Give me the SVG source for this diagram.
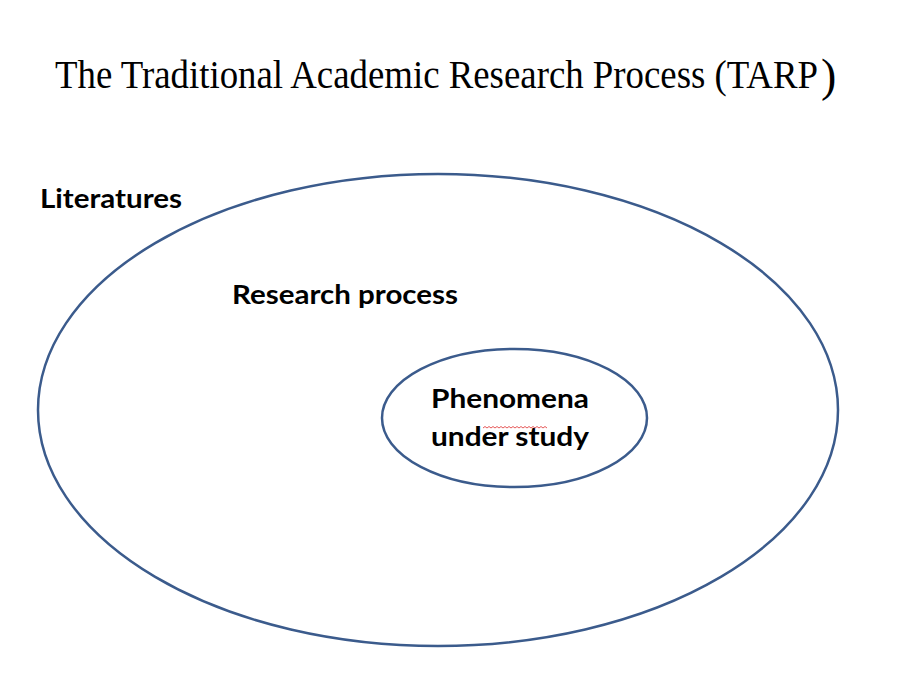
<svg xmlns="http://www.w3.org/2000/svg" width="901" height="682" viewBox="0 0 901 682">
<style>
.ring{fill:none;stroke:#3B5B8C;stroke-width:2.5}
.lbl{font-family:Lato,"Open Sans",sans-serif;font-weight:bold;fill:#000}
.title{font-family:"Liberation Serif","Times New Roman",serif;fill:#000}
</style>
<rect width="901" height="682" fill="#fff"/>
<text class="title" x="55" y="88" font-size="39"><tspan textLength="763" lengthAdjust="spacingAndGlyphs">The Traditional Academic Research Process (TARP</tspan><tspan x="821" dy="3" font-size="46">)</tspan></text>
<g id="literatures">
<ellipse class="ring" cx="438" cy="410" rx="400" ry="236"/>
<text class="lbl" x="40" y="208" font-size="26" textLength="142" lengthAdjust="spacingAndGlyphs">Literatures</text>
</g>
<g id="research-process">
<text class="lbl" x="232" y="304" font-size="26" textLength="226" lengthAdjust="spacingAndGlyphs">Research process</text>
</g>
<g id="phenomena">
<ellipse class="ring" cx="514.5" cy="418" rx="132.5" ry="69"/>
<text class="lbl" x="431" y="408" font-size="27" textLength="158" lengthAdjust="spacingAndGlyphs">Phenomena</text>
<text class="lbl" x="431" y="446" font-size="27" textLength="158" lengthAdjust="spacingAndGlyphs">under study</text>
<path d="M483 428 l2 -1.5 l2 1.5 l2 -1.5 l2 1.5 l2 -1.5 l2 1.5 l2 -1.5 l2 1.5 l2 -1.5 l2 1.5 l2 -1.5 l2 1.5 l2 -1.5 l2 1.5 l2 -1.5 l2 1.5 l2 -1.5 l2 1.5 l2 -1.5 l2 1.5 l2 -1.5 l2 1.5 l2 -1.5 l2 1.5 l2 -1.5 l2 1.5 l2 -1.5 l2 1.5 l2 -1.5 l2 1.5 l2 -1.5 l2 1.5" fill="none" stroke="#e03030" stroke-width="0.8"/>
</g>
</svg>
